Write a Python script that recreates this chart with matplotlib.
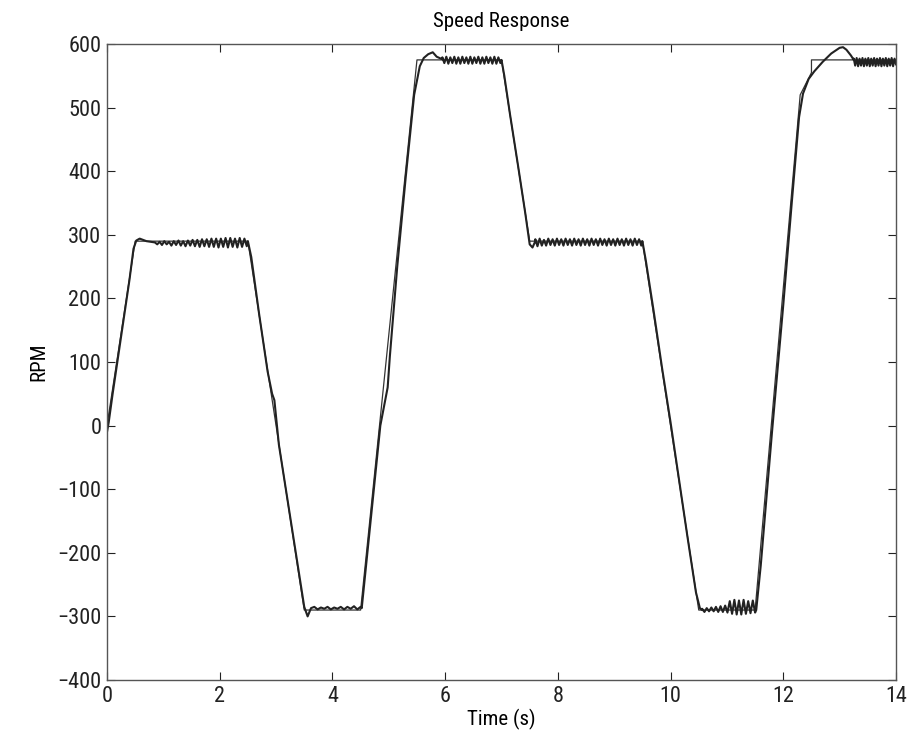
import numpy as np
import matplotlib
matplotlib.use("Agg")
import matplotlib.pyplot as plt

plt.rcParams['font.family'] = ['Roboto Condensed', 'Liberation Sans Narrow', 'Liberation Sans', 'DejaVu Sans']

# Reference speed command (RPM)
ref_t = [0, 0.5, 2.5, 3.5, 4.5, 5.5, 7.0, 7.5, 9.5, 10.5, 11.5, 12.3, 12.5, 12.5, 14.0]
ref_v = [0, 290, 290, -290, -290, 575, 575, 290, 290, -290, -290, 520, 555, 575, 575]

# Measured speed: ramps / transitions (time, rpm)
ramp1_t = [0.0, 0.03, 0.1, 0.2, 0.3, 0.4, 0.47, 0.52, 0.58, 0.7, 0.85]
ramp1_v = [-10, 5, 50, 110, 170, 230, 278, 291, 294, 290, 288]
hold1_span = (0.85, 2.48)
hold1_v = [288, 285, 289, 284, 290, 285, 289, 283, 290, 284, 291, 283, 290, 282,
           291, 283, 292, 282, 292, 281, 293, 282, 293, 281, 294, 281, 294, 280,
           294, 281, 295, 280, 295, 281, 294, 280, 295, 281, 294, 282]
ramp2_t = [2.5, 2.56, 2.7, 2.85, 2.93, 2.97, 3.05, 3.2, 3.35, 3.5, 3.56, 3.62]
ramp2_v = [290, 265, 175, 85, 50, 40, -30, -115, -200, -285, -300, -287]
hold2_span = (3.62, 4.5)
hold2_v = [-287, -285, -289, -286, -288, -285, -289, -286, -288, -285, -289,
           -285, -288, -284, -289, -285]
ramp3_t = [4.52, 4.58, 4.7, 4.85, 4.98, 5.02, 5.15, 5.3, 5.45, 5.55, 5.62, 5.7,
           5.78, 5.85, 5.95]
ramp3_v = [-287, -235, -130, 0, 60, 110, 250, 390, 520, 565, 578, 584,
           587, 580, 576]
hold3_span = (5.95, 6.98)
hold3_v = [579, 570, 580, 569, 579, 570, 580, 569, 579, 569, 580, 570, 579, 569,
           580, 569, 579, 570, 580, 569, 579, 569, 580, 570, 579, 569, 580, 569,
           579, 570]
ramp4_t = [7.0, 7.05, 7.15, 7.3, 7.42, 7.5, 7.55, 7.6]
ramp4_v = [575, 550, 490, 405, 335, 285, 280, 290]
hold4_span = (7.6, 9.48)
hold4_v = [293, 282, 294, 283, 292, 283, 294, 284, 293, 283, 294, 284, 293, 283,
           294, 284, 293, 283, 294, 284, 293, 283, 294, 284, 293, 283, 294, 284,
           293, 283, 294, 284, 293, 283, 294, 284, 293, 283, 294, 284, 293, 283,
           294, 284, 293, 283, 294, 284, 293, 283]
ramp5_t = [9.5, 9.56, 9.7, 9.85, 10.0, 10.15, 10.3, 10.45, 10.52, 10.56]
ramp5_v = [290, 260, 180, 90, 5, -85, -175, -262, -287, -290]
hold5_span = (10.56, 11.5)
hold5_v = [-288, -293, -287, -292, -286, -292, -285, -293, -284, -293, -283,
           -294, -276, -296, -274, -297, -275, -297, -274, -296, -276, -295,
           -275, -294]
ramp6_t = [11.52, 11.6, 11.8, 12.0, 12.15, 12.28, 12.35, 12.45, 12.55, 12.7,
           12.85, 13.0, 13.06, 13.12, 13.2, 13.25]
ramp6_v = [-290, -220, -10, 190, 350, 485, 522, 545, 557, 572, 585, 594, 595,
           591, 582, 575]
hold6_span = (13.25, 14.0)
hold6_v = [577, 566, 578, 565, 577, 566, 578, 565, 577, 566, 578, 565, 577, 566,
           578, 565, 577, 566, 578, 565, 577, 566, 578, 565, 577, 566, 578, 565,
           577, 568]


def hold_times(span, vals):
    return list(np.linspace(span[0], span[1], len(vals)))


act_t = (ramp1_t + hold_times(hold1_span, hold1_v) + ramp2_t + hold_times(hold2_span, hold2_v)
         + ramp3_t + hold_times(hold3_span, hold3_v) + ramp4_t + hold_times(hold4_span, hold4_v)
         + ramp5_t + hold_times(hold5_span, hold5_v) + ramp6_t + hold_times(hold6_span, hold6_v))
act_v = (ramp1_v + hold1_v + ramp2_v + hold2_v + ramp3_v + hold3_v + ramp4_v + hold4_v
         + ramp5_v + hold5_v + ramp6_v + hold6_v)

x_ticks = [0, 2, 4, 6, 8, 10, 12, 14]
y_ticks = [-400, -300, -200, -100, 0, 100, 200, 300, 400, 500, 600]
y_labels = ['\u2212400', '\u2212300', '\u2212200', '\u2212100', '0', '100', '200',
            '300', '400', '500', '600']

fig = plt.figure(figsize=(9.12, 7.38), dpi=100)
ax = fig.add_axes([107 / 912, 1 - 680 / 738, (896 - 107) / 912, (680 - 44) / 738])

ax.plot(ref_t, ref_v, color='#333333', lw=0.9)
ax.plot(act_t, act_v, color='#222222', lw=1.5)

ax.set_xlim(0, 14)
ax.set_ylim(-400, 600)
ax.set_xticks(x_ticks)
ax.set_xticklabels([str(v) for v in x_ticks])
ax.set_yticks(y_ticks)
ax.set_yticklabels(y_labels)
ax.tick_params(direction='in', top=True, right=True, length=6, width=0.8,
               labelsize=16, colors='#222222', pad=4)
for s in ax.spines.values():
    s.set_color('#555555')
    s.set_linewidth(1.0)
ax.set_title('Speed Response', fontsize=15, pad=12)
ax.set_xlabel('Time (s)', fontsize=15, labelpad=2)
ax.set_ylabel('RPM', fontsize=15, labelpad=6)

fig.savefig('out.png', dpi=100)
